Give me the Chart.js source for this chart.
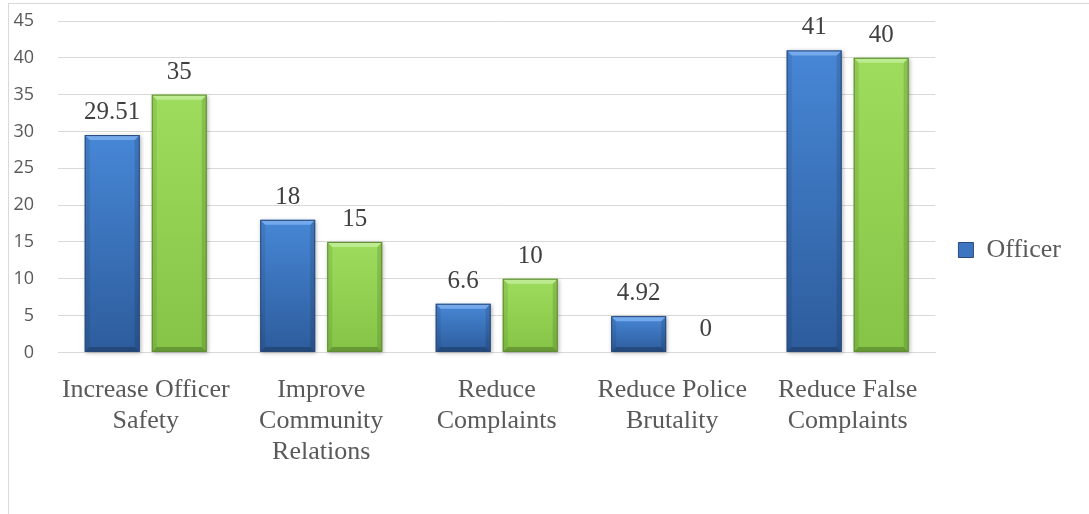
<!DOCTYPE html>
<html>
<head>
<meta charset="utf-8">
<script src="https://cdn.jsdelivr.net/npm/chart.js@4.4.0/dist/chart.umd.min.js"></script>
<style>
  html, body { margin: 0; padding: 0; background: #fff; }
  #wrap { position: relative; width: 1089px; height: 514px; overflow: hidden; }
  #frame { position: absolute; left: 8px; top: 3px; width: 1200px; height: 600px;
           border-left: 1px solid #d9d9d9; border-top: 1px solid #d9d9d9; }
  #chart { position: absolute; left: 0; top: 0; }
</style>
</head>
<body>
<div id="wrap">
  <div id="frame"></div>
  <canvas id="chart" width="1089" height="514"></canvas>
</div>
<script>
// values
const categories = [
  ['Increase Officer', 'Safety'],
  ['Improve', 'Community', 'Relations'],
  ['Reduce', 'Complaints'],
  ['Reduce Police', 'Brutality'],
  ['Reduce False', 'Complaints']
];
const officerValues = [29.51, 18, 6.6, 4.92, 41];
const secondValues = [35, 15, 10, 0, 40];
const yTicks = [0, 5, 10, 15, 20, 25, 30, 35, 40, 45];

const serif = '"Liberation Serif", "Times New Roman", serif';

//colours for the bevel look
const looks = [
  { faceTop: '#4787d6', faceBot: '#2d5c9c', top: '#74aaec', line: '#29497a' },
  { faceTop: '#9ddc5c', faceBot: '#85c446', top: '#bdeb90', line: '#5f8c33' }
];

const bevelBars = {
  id: 'bevelBars',
  afterDatasetDraw(chart, args) {
    const ctx = chart.ctx;
    const look = looks[args.index];
    const meta = args.meta;
    meta.data.forEach(function (bar) {
      const w = bar.width;
      const l = bar.x - w / 2, r = bar.x + w / 2;
      const t = Math.min(bar.y, bar.base), bot = Math.max(bar.y, bar.base);
      const h = bot - t;
      if (h < 1) return;
      const b = Math.min(5, h / 2);
      const grad = ctx.createLinearGradient(0, t, 0, bot);
      grad.addColorStop(0, look.faceTop);
      grad.addColorStop(1, look.faceBot);

      ctx.save();
      ctx.shadowColor = 'rgba(0,0,0,0.3)';
      ctx.shadowBlur = 4;
      ctx.shadowOffsetX = 1;
      ctx.shadowOffsetY = 1;
      ctx.fillStyle = grad;
      ctx.fillRect(l, t, w, h);
      ctx.restore();

      ctx.save();
      const poly = function (pts, col) {
        ctx.beginPath();
        ctx.moveTo(pts[0][0], pts[0][1]);
        for (let i = 1; i < pts.length; i++) ctx.lineTo(pts[i][0], pts[i][1]);
        ctx.closePath();
        ctx.fillStyle = col;
        ctx.fill();
      };
      poly([[l, t], [l + b, t + b], [l + b, bot - b], [l, bot]], 'rgba(0,0,0,0.08)');
      poly([[r, t], [r - b, t + b], [r - b, bot - b], [r, bot]], 'rgba(0,0,0,0.12)');
      poly([[l, bot], [l + b, bot - b], [r - b, bot - b], [r, bot]], 'rgba(0,0,0,0.22)');
      poly([[l, t], [r, t], [r - b, t + b], [l + b, t + b]], look.top);
      ctx.strokeStyle = look.line;
      ctx.lineWidth = 1;
      ctx.strokeRect(l + 0.5, t + 0.5, w - 1, h - 1);
      ctx.restore();
    });
  }
};

const valueLabels = {
  id: 'valueLabels',
  afterDatasetsDraw(chart) {
    const ctx = chart.ctx;
    ctx.save();
    ctx.font = '25px ' + serif;
    ctx.fillStyle = '#404040';
    ctx.textAlign = 'center';
    ctx.textBaseline = 'alphabetic';
    chart.data.datasets.forEach(function (ds, i) {
      chart.getDatasetMeta(i).data.forEach(function (bar, j) {
        ctx.fillText(String(ds.data[j]), bar.x, Math.min(bar.y, bar.base) - 16);
      });
    });
    ctx.restore();
  }
};

new Chart(document.getElementById('chart').getContext('2d'), {
  type: 'bar',
  data: {
    labels: categories,
    datasets: [
      {
        label: 'Officer',
        data: officerValues,
        backgroundColor: 'rgba(0,0,0,0)',
        borderWidth: 0,
        categoryPercentage: 0.764,
        barPercentage: 0.82
      },
      {
        label: 'Other',
        data: secondValues,
        backgroundColor: 'rgba(0,0,0,0)',
        borderWidth: 0,
        categoryPercentage: 0.764,
        barPercentage: 0.82
      }
    ]
  },
  options: {
    responsive: false,
    animation: false,
    layout: { padding: { left: 12, right: 18, top: 18, bottom: 32 } },
    plugins: {
      tooltip: { enabled: false },
      legend: {
        position: 'right',
        labels: {
          generateLabels: function (chart) {
            return [{ text: 'Officer', fillStyle: '#3d76c0', strokeStyle: looks[0].line,
                      lineWidth: 1, datasetIndex: 0, fontColor: '#595959' }];
          },
          boxWidth: 15,
          boxHeight: 15,
          padding: 23,
          color: '#595959',
          font: { family: serif, size: 26 }
        }
      }
    },
    scales: {
      x: {
        grid: { display: false },
        border: { display: true, color: '#d9d9d9' },
        ticks: {
          color: '#595959',
          font: { family: serif, size: 26, lineHeight: 1.2 },
          padding: 14,
          maxRotation: 0,
          autoSkip: false
        }
      },
      y: {
        min: 0,
        max: 45,
        afterBuildTicks: function (axis) { axis.ticks = yTicks.map(function (v) { return { value: v }; }); },
        afterFit: function (axis) {
          axis.width = 46;
          axis.paddingTop = 21;
          axis.paddingBottom = 0;
        },
        grid: { color: '#d9d9d9', drawTicks: false },
        border: { display: false },
        ticks: {
          color: '#595959',
          font: { family: '"Open Sans", sans-serif', size: 18 },
          padding: 24
        }
      }
    }
  },
  plugins: [bevelBars, valueLabels]
});
</script>
</body>
</html>
